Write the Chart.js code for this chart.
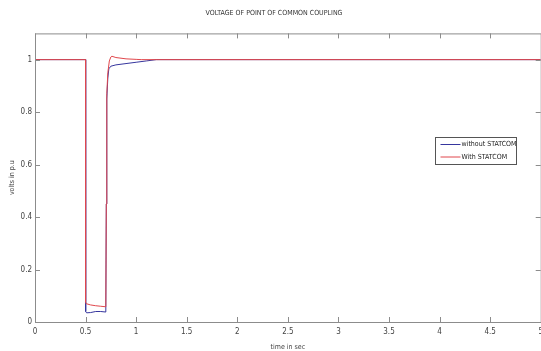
<!DOCTYPE html>
<html lang="en">
<head>
    <meta charset="UTF-8">
    <title>Voltage of point of common coupling</title>
    <script src="https://cdn.jsdelivr.net/npm/chart.js"></script>
    <style>
        html, body { margin: 0; padding: 0; background: #fff; overflow: hidden; }
        .box { width: 548px; height: 351px; }
    </style>
</head>
<body>
    <div class="box"><canvas id="pcc"></canvas></div>
    <script>
        // Datos
        const timeWithout = [0, 0.5, 0.5, 0.502, 0.51, 0.55, 0.6, 0.65, 0.7, 0.705, 0.71, 0.72, 0.73, 0.75, 0.8, 0.9, 1.0, 1.1, 1.2, 5];
        const voltsWithout = [1, 1, 0.055, 0.04, 0.035, 0.036, 0.04, 0.04, 0.038, 0.45, 0.85, 0.93, 0.965, 0.975, 0.98, 0.985, 0.99, 0.995, 1, 1];
        const timeWith = [0, 0.5, 0.5, 0.505, 0.55, 0.6, 0.65, 0.7, 0.705, 0.71, 0.72, 0.735, 0.75, 0.76, 0.8, 0.9, 1.0, 1.05, 5];
        const voltsWith = [1, 1, 0.077, 0.07, 0.065, 0.062, 0.06, 0.058, 0.45, 0.87, 0.95, 0.995, 1.01, 1.013, 1.008, 1.003, 1.001, 1, 1];
        const xTicks = [0, 0.5, 1, 1.5, 2, 2.5, 3, 3.5, 4, 4.5, 5];
        const yTicks = [0, 0.2, 0.4, 0.6, 0.8, 1];

        const fontName = "'DejaVu Sans Condensed', 'Liberation Sans Narrow', 'Liberation Sans', Arial, sans-serif";
        const axisGrey = '#8c8c8c';

        function toPoints(xs, ys) {
            return xs.map((x, i) => ({ x: x, y: ys[i] }));
        }

        // Marco y marcas hacia dentro, estilo MATLAB
        const frameTicks = {
            id: 'frameTicks',
            afterDatasetsDraw(chart) {
                const { ctx, chartArea: a, scales } = chart;
                const len = 5;
                ctx.save();
                ctx.strokeStyle = axisGrey;
                ctx.lineWidth = 1;
                ctx.strokeRect(a.left + 0.5, a.top + 0.5, a.right - a.left, a.bottom - a.top);
                ctx.beginPath();
                xTicks.forEach(t => {
                    const px = Math.round(scales.x.getPixelForValue(t)) + 0.5;
                    ctx.moveTo(px, a.bottom); ctx.lineTo(px, a.bottom - len);
                    ctx.moveTo(px, a.top); ctx.lineTo(px, a.top + len);
                });
                yTicks.forEach(t => {
                    const py = Math.round(scales.y.getPixelForValue(t)) + 0.5;
                    ctx.moveTo(a.left, py); ctx.lineTo(a.left + len, py);
                    ctx.moveTo(a.right, py); ctx.lineTo(a.right - len, py);
                });
                ctx.stroke();

                // Leyenda dentro del área
                const bx = 435.5, by = 137.5, bw = 81, bh = 27;
                ctx.fillStyle = '#fff';
                ctx.fillRect(bx, by, bw, bh);
                ctx.strokeStyle = '#555';
                ctx.strokeRect(bx, by, bw, bh);
                ctx.font = '7px ' + fontName;
                ctx.textBaseline = 'middle';
                chart.data.datasets.forEach((ds, i) => {
                    const y = by + 7 + i * 12.5;
                    ctx.strokeStyle = ds.borderColor;
                    ctx.beginPath();
                    ctx.moveTo(bx + 5, y); ctx.lineTo(bx + 25, y);
                    ctx.stroke();
                    ctx.fillStyle = '#222';
                    ctx.fillText(ds.label, bx + 26, y);
                });
                ctx.restore();
            }
        };

        new Chart(document.getElementById('pcc'), {
            type: 'line',
            data: {
                datasets: [{
                    label: 'without STATCOM',
                    data: toPoints(timeWithout, voltsWithout),
                    borderColor: '#36369e',
                    borderWidth: 1,
                    pointRadius: 0,
                    tension: 0,
                    order: 2
                }, {
                    label: 'With STATCOM',
                    data: toPoints(timeWith, voltsWith),
                    borderColor: '#e0474c',
                    borderWidth: 1,
                    pointRadius: 0,
                    tension: 0,
                    order: 1
                }]
            },
            options: {
                responsive: true,
                maintainAspectRatio: false,
                animation: false,
                layout: { padding: { left: 0, right: 0, top: 0, bottom: 0 } },
                plugins: {
                    legend: { display: false },
                    tooltip: { enabled: false },
                    title: {
                        display: true,
                        text: 'VOLTAGE OF POINT OF COMMON COUPLING',
                        color: '#333',
                        font: { family: fontName, size: 7, weight: 'normal' },
                        padding: { top: 9, bottom: 16 }
                    }
                },
                scales: {
                    x: {
                        type: 'linear',
                        min: 0,
                        max: 5,
                        grid: { display: false, drawTicks: false },
                        border: { display: false },
                        afterBuildTicks: s => { s.ticks = xTicks.map(v => ({ value: v })); },
                        ticks: {
                            padding: 5,
                            maxRotation: 0,
                            color: '#444',
                            font: { family: fontName, size: 8 },
                            callback: v => String(v)
                        },
                        title: {
                            display: true,
                            text: 'time in sec',
                            color: '#444',
                            font: { family: fontName, size: 7 },
                            padding: { top: 1, bottom: 0 }
                        }
                    },
                    y: {
                        min: 0,
                        max: 1.1,
                        grid: { display: false, drawTicks: false },
                        border: { display: false },
                        afterBuildTicks: s => { s.ticks = yTicks.map(v => ({ value: v })); },
                        afterFit: s => { s.width = 35; },
                        ticks: {
                            padding: 3,
                            color: '#444',
                            font: { family: fontName, size: 8 },
                            callback: v => String(v)
                        },
                        title: {
                            display: true,
                            text: 'volts in p.u',
                            color: '#444',
                            font: { family: fontName, size: 7 },
                            padding: { top: 8, bottom: 0 }
                        }
                    }
                }
            },
            plugins: [frameTicks]
        });
    </script>
</body>
</html>
